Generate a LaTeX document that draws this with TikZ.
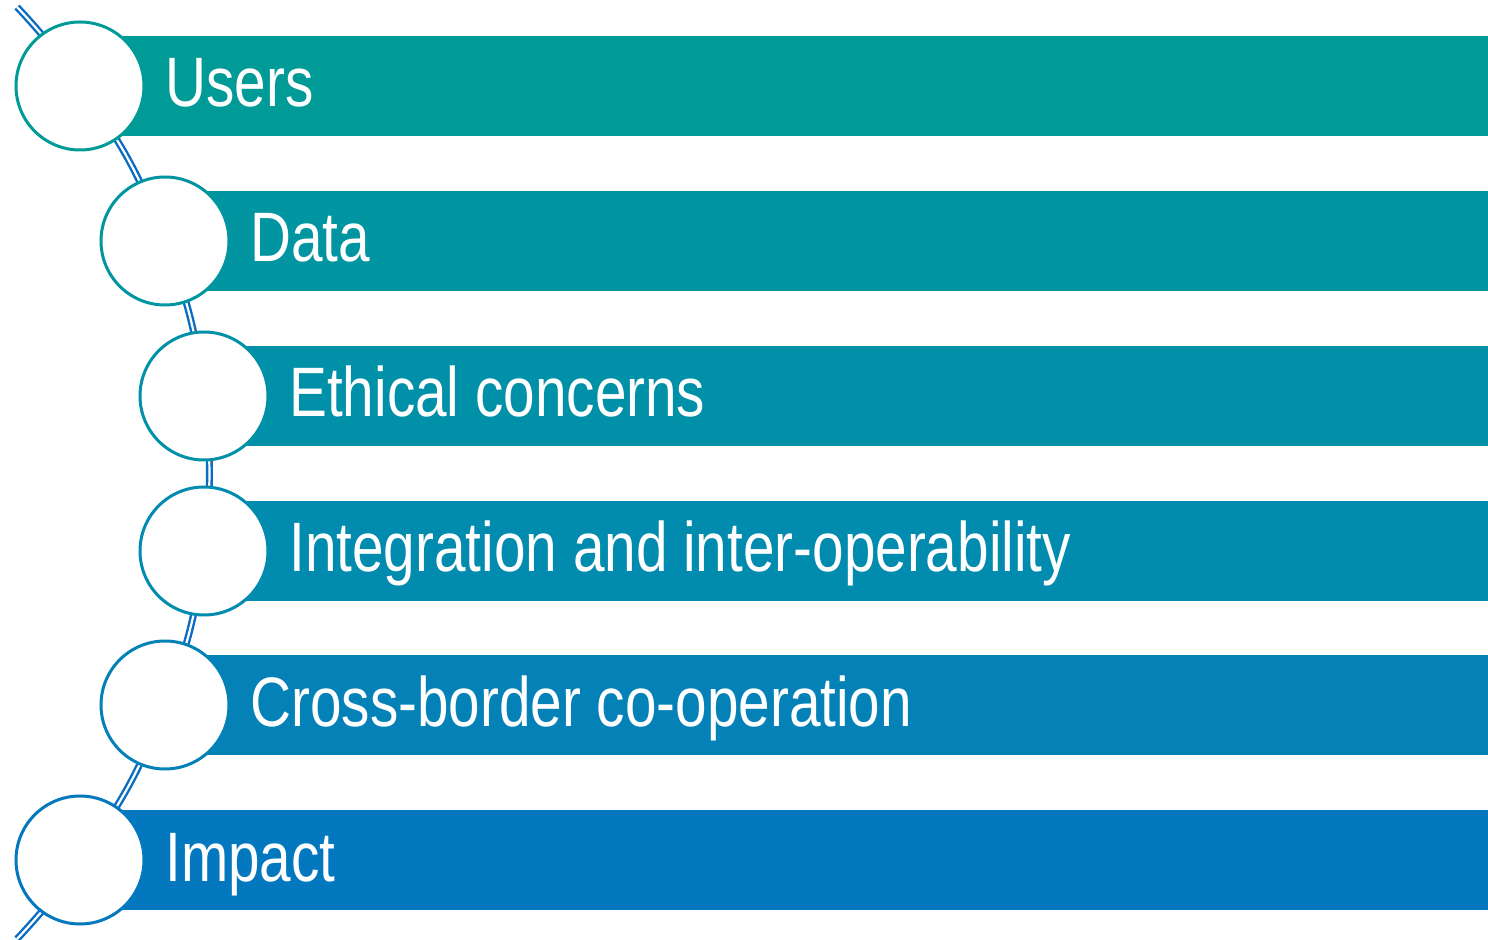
\documentclass[tikz,border=0pt]{standalone}
\usepackage{fontspec}
\setmainfont[FakeStretch=0.81]{Liberation Sans}
\usetikzlibrary{backgrounds}

\definecolor{usersc}{HTML}{009A97}
\definecolor{datac}{HTML}{0095A1}
\definecolor{ethicsc}{HTML}{0090A8}
\definecolor{integc}{HTML}{008BAF}
\definecolor{crossc}{HTML}{0482B8}
\definecolor{impactc}{HTML}{0478BF}
\definecolor{linkc}{HTML}{0A6DC2}

\begin{document}
\begin{tikzpicture}
                    [x=0.5pt, y=-0.5pt]
                    \tikzset{stage/.style = {circle, draw, line width=1.5pt, fill=white, minimum size=64pt, inner sep=0pt},
                             title/.style = {anchor=base west, text=white, inner sep=0pt, font=\fontsize{35pt}{40pt}\selectfont},
                             chain/.style = {draw=linkc, line width=1.2pt, double=white, double distance=1.1pt}}
                    \useasboundingbox (0,0) rectangle (1488,940);
                    \node[stage, draw=usersc]  (users)  at (80,86)   {};
                    \node[stage, draw=datac]   (data)   at (165,241) {};
                    \node[stage, draw=ethicsc] (ethics) at (204,396) {};
                    \node[stage, draw=integc]  (integ)  at (204,551) {};
                    \node[stage, draw=crossc]  (cross)  at (165,705) {};
                    \node[stage, draw=impactc] (impact) at (80,860)  {};
                    \coordinate (top)    at (17,7);
                    \coordinate (bottom) at (17,939);

                    \node[title] (users-t)  at ([xshift=42.5pt,yshift=-10.5pt]users.center)  {Users};
                    \node[title] (data-t)   at ([xshift=42.5pt,yshift=-10.5pt]data.center)   {Data};
                    \node[title] (ethics-t) at ([xshift=42.5pt,yshift=-10.5pt]ethics.center) {Ethical concerns};
                    \node[title] (integ-t)  at ([xshift=42.5pt,yshift=-10.5pt]integ.center)  {Integration and inter-operability};
                    \node[title] (cross-t)  at ([xshift=42.5pt,yshift=-10.5pt]cross.center)  {Cross-border co-operation};
                    \node[title] (impact-t) at ([xshift=42.5pt,yshift=-10.5pt]impact.center) {Impact};

                    \begin{pgfonlayer}{background}
                        \foreach \n/\col in {users/usersc,data/datac,ethics/ethicsc,integ/integc,cross/crossc,impact/impactc}
                            \fill[\col] (\n.center) ++(0,-50) rectangle ++(1500,100);
                        \draw[chain] (top) to[bend left=4.5] (users.center) to[bend left=7.8] (data.center)
                            to[bend left=7.1] (ethics.center) to[bend left=6.9] (integ.center)
                            to[bend left=7.1] (cross.center) to[bend left=7.8] (impact.center)
                            to[bend left=4.5] (bottom);
                    \end{pgfonlayer}
                \end{tikzpicture}
\end{document}
